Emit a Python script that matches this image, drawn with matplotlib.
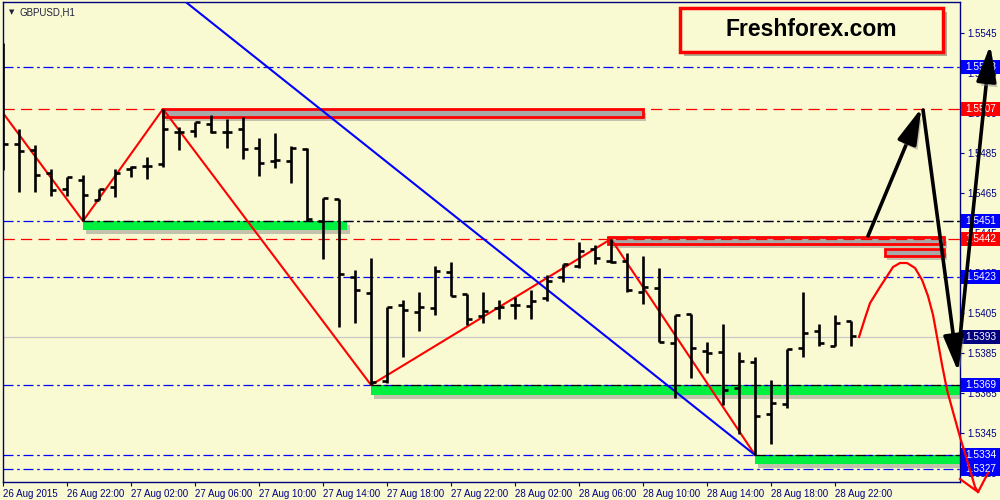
import matplotlib
matplotlib.use("Agg")
import matplotlib.pyplot as plt
import matplotlib.patheffects as pe
from matplotlib.patches import Rectangle

# ── данные (H1 бары, индекс 0 = 26 Aug 18:00) ──────────────────────────────
opens = [1.5505, 1.54895, 1.54865, 1.5475, 1.5467, 1.54715, 1.54615, 1.5468, 1.5477, 1.54785,
         1.54795, 1.54955, 1.5496, 1.54995, 1.54955, 1.5497, 1.54875, 1.5481, 1.5481, 1.5487,
         1.5451, 1.5462, 1.5423, 1.5415, 1.5371, 1.5409, 1.54055, 1.54075, 1.54255, 1.54145,
         1.54035, 1.54075, 1.5409, 1.54085, 1.54125, 1.5423, 1.54285, 1.5437, 1.5431, 1.5431,
         1.54155, 1.54175, 1.5390, 1.54045, 1.5386, 1.53855, 1.53675, 1.53805, 1.53545, 1.53595,
         1.53875, 1.5396, 1.53885, 1.5401]
highs = [1.5540, 1.5497, 1.5489, 1.5477, 1.5473, 1.5474, 1.5467, 1.5477, 1.54785, 1.5483,
         1.5507, 1.5498, 1.55005, 1.5504, 1.5502, 1.5503, 1.54925, 1.5495, 1.54885, 1.54875,
         1.54625, 1.5462, 1.54265, 1.54325, 1.5408, 1.54115, 1.54155, 1.54285, 1.54305, 1.54145,
         1.54155, 1.54115, 1.5413, 1.54165, 1.5424, 1.54295, 1.54405, 1.5439, 1.5442, 1.5435,
         1.54335, 1.54275, 1.5404, 1.54045, 1.53905, 1.53995, 1.53855, 1.5383, 1.53715, 1.5387,
         1.54155, 1.53995, 1.5404, 1.5401]
lows = [1.54765, 1.54655, 1.54655, 1.54635, 1.54635, 1.5451, 1.54615, 1.5463, 1.5473, 1.5472,
        1.5478, 1.54865, 1.5493, 1.5495, 1.54875, 1.5482, 1.54735, 1.54775, 1.5470, 1.5451,
        1.5432, 1.5398, 1.5400, 1.5369, 1.5370, 1.5383, 1.5396, 1.5404, 1.54135, 1.5399,
        1.5400, 1.5402, 1.5402, 1.5402, 1.5411, 1.54205, 1.54275, 1.54295, 1.5430, 1.54155,
        1.54095, 1.53905, 1.53625, 1.53725, 1.5375, 1.5359, 1.53445, 1.5334, 1.53395, 1.53575,
        1.5383, 1.53885, 1.53885, 1.53885]
closes = [1.54895, 1.5486, 1.5474, 1.54665, 1.5473, 1.5464, 1.5467, 1.5475, 1.5478, 1.54785,
          1.5497, 1.54955, 1.55005, 1.54955, 1.54955, 1.5487, 1.5480, 1.54815, 1.54875, 1.5452,
          1.54625, 1.54245, 1.54165, 1.53705, 1.5408, 1.54065, 1.5408, 1.5426, 1.54135, 1.5402,
          1.5406, 1.5408, 1.5409, 1.5411, 1.5421, 1.54295, 1.5436, 1.54325, 1.54305, 1.54165,
          1.5418, 1.53905, 1.5404, 1.53875, 1.5385, 1.53665, 1.5381, 1.53535, 1.5360, 1.5387,
          1.5395, 1.5390, 1.5400, 1.53935]

time_ticks = [0, 4, 8, 12, 16, 20, 24, 28, 32, 36, 40, 44, 48, 52]
time_labels = ["26 Aug 2015", "26 Aug 22:00", "27 Aug 02:00", "27 Aug 06:00", "27 Aug 10:00",
               "27 Aug 14:00", "27 Aug 18:00", "27 Aug 22:00", "28 Aug 02:00", "28 Aug 06:00",
               "28 Aug 10:00", "28 Aug 14:00", "28 Aug 18:00", "28 Aug 22:00"]
price_ticks = [1.5545, 1.5525, 1.5505, 1.5485, 1.5465, 1.5445, 1.5425, 1.5405,
               1.5385, 1.5365, 1.5345, 1.5325]

blue_levels = [1.5528, 1.5451, 1.5423, 1.5369, 1.5334, 1.5327]
red_levels = [1.5507, 1.5442]
bid_level = 1.5393

# зигзаг и трендовая линия
zz_x = [0, 5, 10, 23, 38, 47]
zz_y = [1.5505, 1.5451, 1.5507, 1.5369, 1.5442, 1.5334]
trend_x = [11.5, 47]
trend_y = [1.5560, 1.5334]

# зоны: (x0, x1, верх, низ)
green_zones = [(5, 21.5, 1.5451, 1.54465), (23, 59.8, 1.5369, 1.5364), (47, 59.8, 1.5334, 1.53295)]
red_zones = [(10, 40.0, 1.5507, 1.5503), (37.8, 58.8, 1.5443, 1.54395), (55.1, 58.8, 1.5437, 1.54335)]
support_starts = [(5, 1.5451), (23, 1.5369), (47, 1.5334)]

# стрелки прогноза (начало -> конец)
arrows = [((54.06, 1.54435), (57.4, 1.55075)),
          ((57.5, 1.55065), (59.7, 1.53755)),
          ((59.7, 1.5384), (61.7, 1.5539))]
curve_x = [53.5, 53.875, 54.19, 54.81, 55.625, 56.06, 56.5, 57.0, 57.44, 57.81, 58.125,
           58.375, 58.69, 59.0, 59.375, 59.81, 60.25, 60.75, 60.94]
curve_y = [1.5393, 1.54025, 1.5410, 1.5418, 1.5428, 1.5430, 1.5430, 1.54275, 1.54215, 1.54135,
           1.5404, 1.5393, 1.5379, 1.53665, 1.53555, 1.5343, 1.53315, 1.5318, 1.53155]
head_x = [59.81, 60.94, 61.56]
head_y = [1.5322, 1.53155, 1.5325]

BG = "#FAFAD2"
NAVY = "#000080"
BLUE = "#0000FF"
GREEN = "#00F040"

fig = plt.figure(figsize=(10, 5), dpi=100, facecolor=BG)
ax = fig.add_axes([0.003, 0.036, 0.957, 0.96], facecolor=BG)
ax.set_xlim(0, 59.81)
ax.set_ylim(1.53205, 1.55605)

shadow = [pe.SimplePatchShadow(offset=(2, -3), shadow_rgbFace="#808080", alpha=0.45), pe.Normal()]

# ── уровни ─────────────────────────────────────────────────────────────────
for lv in blue_levels:
    ax.axhline(lv, color=BLUE, lw=0.9, ls=(0, (8, 3, 2, 3)), zorder=2)
for lv in red_levels:
    ax.axhline(lv, color="red", lw=0.9, ls=(0, (9, 5)), zorder=2)
ax.axhline(bid_level, color="#C8C8C8", lw=0.9, zorder=1.8)

for x0, x1, top, bot in green_zones:
    ax.add_patch(Rectangle((x0, bot), x1 - x0, top - bot, fc=GREEN, ec="none",
                           zorder=1.5, path_effects=shadow))
for x0, x1, top, bot in red_zones:
    ax.add_patch(Rectangle((x0, bot), x1 - x0, top - bot, fc="#A8A8A8", ec="red", lw=2,
                           zorder=1.5, path_effects=shadow))
for x0, lv in support_starts:
    ax.plot([x0, 59.81], [lv, lv], color="black", lw=0.9, ls=(0, (8, 3, 2, 3)), zorder=2.1)

ax.plot(zz_x, zz_y, color="red", lw=1.5, zorder=3)
ax.plot(trend_x, trend_y, color=BLUE, lw=1.5, zorder=3)

# ── бары ───────────────────────────────────────────────────────────────────
idx = list(range(len(opens)))
ax.vlines(idx, lows, highs, color="black", lw=1.9, zorder=4)
ax.hlines(opens, [i - 0.31 for i in idx], idx, color="black", lw=1.9, zorder=4)
ax.hlines(closes, idx, [i + 0.31 for i in idx], color="black", lw=1.9, zorder=4)

# ── оси ────────────────────────────────────────────────────────────────────
for s in ax.spines.values():
    s.set_color(NAVY)
    s.set_linewidth(1)
ax.yaxis.tick_right()
ax.set_yticks(price_ticks)
ax.set_yticklabels([f"{p:.4f}" for p in price_ticks])
ax.set_xticks(time_ticks)
ax.set_xticklabels(time_labels, ha="left")
ax.tick_params(axis="both", colors=NAVY, labelsize=7, length=3, width=0.8, pad=2)
for lab in ax.get_xticklabels() + ax.get_yticklabels():
    lab.set_fontfamily("Liberation Sans")

# ценовые метки справа
tr = ax.get_yaxis_transform()
boxes = [(lv, BLUE) for lv in blue_levels] + [(lv, "red") for lv in red_levels] + [(bid_level, NAVY)]
for lv, col in boxes:
    ax.add_patch(Rectangle((1.0015, lv - 0.00033), 0.041, 0.00066, transform=tr, fc=col,
                           ec="none", clip_on=False, zorder=5))
    ax.text(1.0055, lv, f"{lv:.4f}", transform=tr, va="center", ha="left", color="white",
            fontsize=7.3, family="Liberation Sans", clip_on=False, zorder=5.5)

# ── прогноз ────────────────────────────────────────────────────────────────
for start, end in arrows:
    a = ax.annotate("", xy=end, xytext=start, annotation_clip=False, zorder=7,
                    arrowprops=dict(arrowstyle="-|>,head_length=1.1,head_width=0.3",
                                    color="black", lw=2.6, mutation_scale=20,
                                    shrinkA=0, shrinkB=0))
    a.arrow_patch.set_clip_on(False)
    a.arrow_patch.set_path_effects(shadow)
ax.plot(curve_x, curve_y, color="red", lw=1.6, clip_on=False, zorder=7)
ax.plot(head_x, head_y, color="red", lw=1.6, clip_on=False, zorder=7)

# ── надписи ────────────────────────────────────────────────────────────────
ax.add_patch(Rectangle((42.3, 1.55355), 16.45, 0.0022, fc=BG, ec="red", lw=2.5,
                       zorder=6, path_effects=[pe.SimplePatchShadow(offset=(3, -3), alpha=0.45), pe.Normal()]))
ax.text(50.5, 1.55465, "Freshforex.com", ha="center", va="center", fontsize=16.5,
        fontweight="bold", family="Liberation Sans", color="black", zorder=6.5)
ax.text(0.006, 0.978, "▼", transform=ax.transAxes, fontsize=5, color="#202040", va="center")
ax.text(0.017, 0.978, "GBPUSD,H1", transform=ax.transAxes, fontsize=7, color="#202040",
        va="center", family="Liberation Sans")

plt.savefig("out.png", dpi=100, facecolor=BG)
